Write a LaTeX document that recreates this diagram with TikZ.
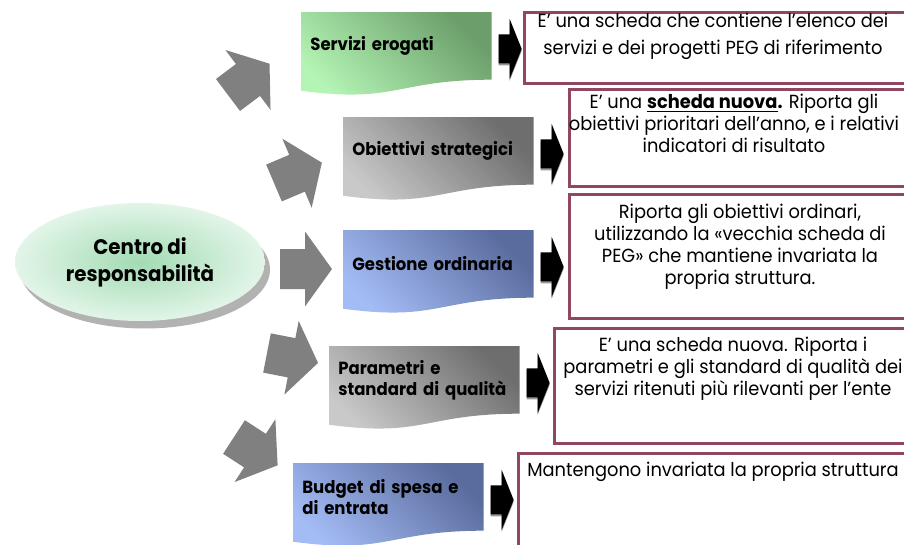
\documentclass[tikz,border=0pt]{standalone}
\usepackage{fontspec}
\newfontfamily\gothic{Poppins}[FakeStretch=0.94]
\usetikzlibrary{
  positioning,
  shapes.geometric,
  calc,
  shadows,
  backgrounds
}

\definecolor{frame}{HTML}{924760}
\definecolor{greenlight}{HTML}{B4F4B4}
\definecolor{greendark}{HTML}{6B9E6B}
\definecolor{graylight}{HTML}{C9C9C9}
\definecolor{graydark}{HTML}{6E6E6E}
\definecolor{bluelight}{HTML}{A4BCF6}
\definecolor{bluedark}{HTML}{5A6C9E}
\definecolor{hubinner}{HTML}{A2DBB3}
\definecolor{hubouter}{HTML}{E2F5E8}
\definecolor{fatgray}{HTML}{808080}

% wavy "document" fill behind a card node
\newcommand{\wavefill}[3]{%
  \shade[top color=#3, bottom color=#2, shading angle=-45]
    (#1.north west) -- (#1.north east) -- (#1.south east)
    .. controls (#1.south) and ($(#1.south)+(0,24)$) .. ($(#1.south west)+(0,11)$) -- cycle;}

\tikzset{
  pics/fatarrow/.style={code={
    \fill[fatgray] (0,-20) -- (25,-20) -- (25,-37.5) -- (52,0) -- (25,37.5) -- (25,20) -- (0,20) -- cycle;}},
  pics/blackarrow/.style={code={
    \fill[black!40] (0,-12.5) -- (11,-12.5) -- (11,-28) -- (23,2) -- (11,32) -- (11,16.5) -- (0,16.5) -- cycle;
    \fill[black] (0,-14.5) -- (11,-14.5) -- (11,-30) -- (23,0) -- (11,30) -- (11,14.5) -- (0,14.5) -- cycle;}}
}

\begin{document}
\begin{tikzpicture}[x=0.02cm, y=-0.02cm, every node/.style={font=\gothic},
  hub/.style={ellipse, minimum width=5cm, minimum height=2.36cm, inner sep=0pt, inner color=hubinner, outer color=hubouter, align=center, font=\gothic\bfseries\fontsize{12}{15.3}\selectfont, drop shadow={shadow xshift=0.1cm, shadow yshift=-0.15cm, fill=black!30, opacity=1}},
  card/.style={anchor=north west, minimum width=3.8cm, minimum height=1.34cm, text width=3.44cm, inner xsep=0.18cm, inner ysep=0pt, align=left, font=\gothic\bfseries\fontsize{10}{12}\selectfont},
  sheet/.style={anchor=north west, draw=frame, line width=1.7pt, fill=white, minimum width=8cm},
  note/.style={anchor=north, inner sep=0pt, align=center, font=\gothic\fontsize{10.8}{12.5}\selectfont}
]
\useasboundingbox (0,0) rectangle (904,545);
\clip (0,0) rectangle (904,545);

% Centre
\node[hub] (centro) at (140,262) {Centro di\\responsabilità};

% Schede
\node[card] (serv) at (301,12) {Servizi erogati};
\node[card] (obie) at (343,117) {Obiettivi strategici};
\node[card] (gest) at (343,230) {Gestione ordinaria};
\node[card] (para) at (329,346) {Parametri e\\standard di qualità};
\node[card] (budg) at (293,463) {Budget di spesa e\\di entrata};

\begin{scope}[on background layer]
  \wavefill{serv}{greenlight}{greendark}
  \wavefill{obie}{graylight}{graydark}
  \wavefill{gest}{bluelight}{bluedark}
  \wavefill{para}{graylight}{graydark}
  \wavefill{budg}{bluelight}{bluedark}
\end{scope}

% Descrizioni
\node[sheet, minimum height=1.42cm] (d1) at (523,11) {};
\node[sheet, minimum height=1.94cm] (d2) at (568,88) {};
\node[sheet, minimum height=2.48cm] (d3) at (568,193) {};
\node[sheet, minimum height=2.3cm] (d4) at (553,327) {};
\node[sheet, minimum height=2.3cm] (d5) at (517,452) {};

\node[note, font=\gothic\fontsize{10.8}{15.3}\selectfont] (t1) at (713,13) {E’ una scheda che contiene l’elenco dei\\servizi e dei progetti PEG di riferimento};
\node[note] (t2) at (734,94) {E’ una \underline{\textbf{scheda nuova}}\textbf{.} Riporta gli\\obiettivi prioritari dell’anno, e i relativi\\indicatori di risultato};
\node[note] (t3) at (740,204) {Riporta gli obiettivi ordinari,\\utilizzando la «vecchia scheda di\\PEG» che mantiene invariata la\\propria struttura.};
\node[note] (t4) at (733,337) {E’ una scheda nuova. Riporta i\\parametri e gli standard di qualità dei\\servizi ritenuti più rilevanti per l’ente};
\node[note] (t5) at (713,462) {Mantengono invariata la propria struttura};

% Frecce grigie
\pic[rotate=37] at (228,95) {fatarrow};
\pic[rotate=23] at (274,183) {fatarrow};
\pic at (280,269) {fatarrow};
\pic[rotate=-11] at (267,353) {fatarrow};
\pic[rotate=-33] at (234,437) {fatarrow};

% Frecce nere
\pic at ($(serv.east)+(7,3)$) {blackarrow};
\pic at ($(obie.east)+(7,3)$) {blackarrow};
\pic at ($(gest.east)+(7,3)$) {blackarrow};
\pic at ($(para.east)+(7,3)$) {blackarrow};
\pic at ($(budg.east)+(7,3)$) {blackarrow};

\end{tikzpicture}
\end{document}
